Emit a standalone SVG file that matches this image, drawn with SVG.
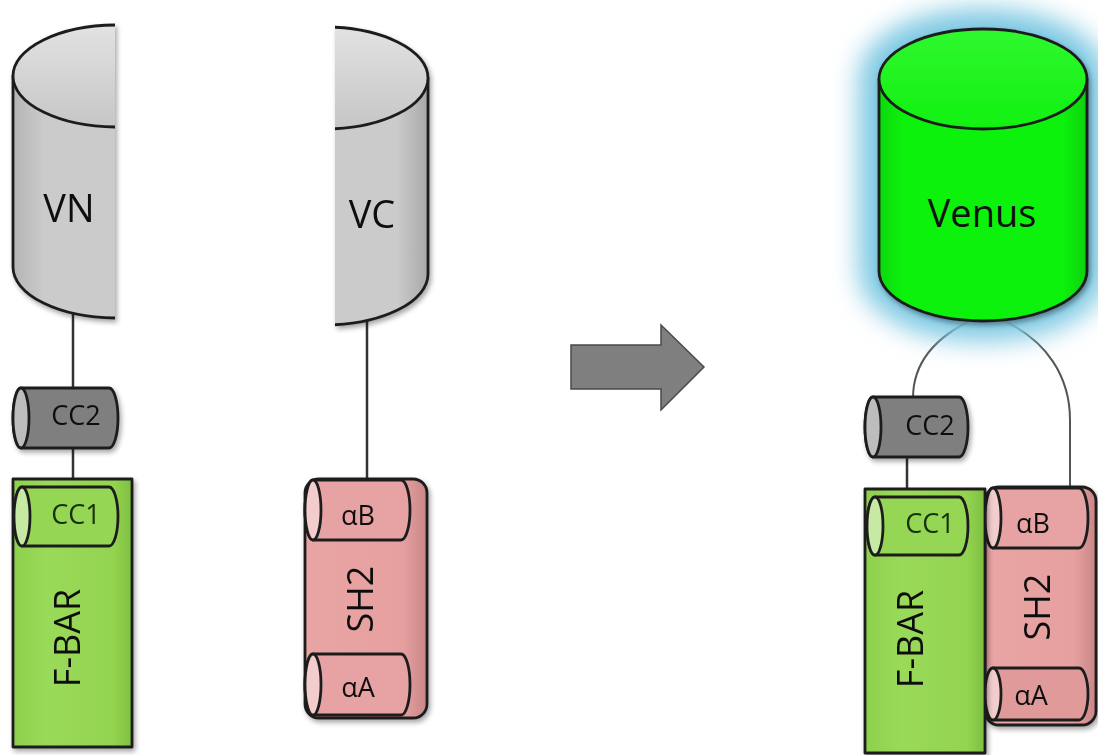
<svg xmlns="http://www.w3.org/2000/svg" width="1098" height="755" viewBox="0 0 1098 755">
  <style>
    .edge { stroke: #1f1f1f; stroke-width: 2.8; stroke-linejoin: round; }
    .wire { fill: none; stroke: #333; stroke-width: 2.5; }
    .wire2 { fill: none; stroke: #555; stroke-width: 2; }
    .lbl { font-family: "Open Sans", "Noto Sans", sans-serif; fill: #111; text-anchor: middle; }
    .big { font-size: 38px; }
    .mid { font-size: 36px; }
    .sm { font-size: 27px; }
    .dkg { fill: #17300a; }
  </style>
  <defs>
    <filter id="shadow" x="-20%" y="-20%" width="140%" height="140%">
      <feDropShadow dx="2" dy="3" stdDeviation="2.5" flood-color="#000" flood-opacity="0.35"/>
    </filter>
    <filter id="glow" x="-50%" y="-50%" width="200%" height="200%">
      <feGaussianBlur stdDeviation="13"/>
    </filter>
    <linearGradient id="grayBody" x1="0" y1="0" x2="1" y2="0">
      <stop offset="0" stop-color="#b4b4b4"/>
      <stop offset="0.15" stop-color="#cbcbcb"/>
      <stop offset="0.85" stop-color="#cbcbcb"/>
      <stop offset="1" stop-color="#a8a8a8"/>
    </linearGradient>
    <linearGradient id="grayTop" x1="0" y1="0" x2="0" y2="1">
      <stop offset="0" stop-color="#e2e2e2"/>
      <stop offset="1" stop-color="#c6c6c6"/>
    </linearGradient>
    <linearGradient id="greenBody" x1="0" y1="0" x2="1" y2="0">
      <stop offset="0" stop-color="#08d808"/>
      <stop offset="0.12" stop-color="#0cf20c"/>
      <stop offset="0.88" stop-color="#0cf20c"/>
      <stop offset="1" stop-color="#06d206"/>
    </linearGradient>
    <linearGradient id="greenTop" x1="0" y1="0" x2="0" y2="1">
      <stop offset="0" stop-color="#30f830"/>
      <stop offset="1" stop-color="#10f010"/>
    </linearGradient>
    <linearGradient id="lime" x1="0" y1="0" x2="1" y2="0">
      <stop offset="0" stop-color="#8ed04c"/>
      <stop offset="0.3" stop-color="#9ada5a"/>
      <stop offset="0.85" stop-color="#92d350"/>
      <stop offset="1" stop-color="#7fbf40"/>
    </linearGradient>
    <linearGradient id="pink" x1="0" y1="0" x2="1" y2="0">
      <stop offset="0" stop-color="#e9a4a4"/>
      <stop offset="0.8" stop-color="#e6a0a0"/>
      <stop offset="1" stop-color="#c98686"/>
    </linearGradient>
    <clipPath id="leftHalf"><rect x="0" y="0" width="115" height="340"/></clipPath>
    <clipPath id="rightHalf"><rect x="335" y="0" width="120" height="340"/></clipPath>
  </defs>

  <rect width="1098" height="755" fill="#fff"/>

  <!-- connectors -->
  <g id="connectors">
    <line class="wire" x1="73" y1="312" x2="73" y2="390"/>
    <line class="wire" x1="73" y1="447" x2="73" y2="479"/>
    <line class="wire" x1="367" y1="318" x2="367" y2="479"/>
    <path class="wire2" d="M976 318 C936 336 913 362 913 398"/>
    <line class="wire" x1="907" y1="456" x2="907" y2="489"/>
    <path class="wire2" d="M1000 319 C1048 340 1070 378 1070 420 L1070 488"/>
  </g>

  <!-- left half cylinder -->
  <g id="VN" filter="url(#shadow)">
    <g clip-path="url(#leftHalf)">
      <path class="edge" fill="url(#grayBody)" d="M13 76 L13 267 A104 51 0 0 0 221 267 L221 76 Z"/>
      <ellipse class="edge" cx="117" cy="76" rx="104" ry="51" fill="url(#grayTop)"/>
    </g>
    <text class="lbl big" x="69" y="222">VN</text>
  </g>

  <!-- right half cylinder -->
  <g id="VC" filter="url(#shadow)">
    <g clip-path="url(#rightHalf)">
      <path class="edge" fill="url(#grayBody)" d="M220 78 L220 274 A104 51 0 0 0 428 274 L428 78 Z"/>
      <ellipse class="edge" cx="324" cy="78" rx="104" ry="51" fill="url(#grayTop)"/>
    </g>
    <text class="lbl big" x="372" y="228">VC</text>
  </g>

  <!-- left: CC2 -->
  <g id="CC2-left" filter="url(#shadow)">
    <path class="edge" fill="#7f7f7f" d="M21 388 L109 388 A9 30 0 0 1 109 448 L21 448 A8 30 0 0 1 21 388 Z"/>
    <ellipse class="edge" cx="21" cy="418" rx="8" ry="30" fill="#bdbdbd"/>
    <text class="lbl sm" x="76" y="425">CC2</text>
  </g>

  <!-- left: F-BAR with CC1 -->
  <g id="FBAR-left" filter="url(#shadow)">
    <rect class="edge" x="13" y="479" width="119" height="268" fill="url(#lime)"/>
    <path class="edge" fill="#96d655" d="M22 487 L109 487 A9 29.5 0 0 1 109 546 L22 546 A8 29.5 0 0 1 22 487 Z"/>
    <ellipse class="edge" cx="22" cy="516.5" rx="8" ry="29.5" fill="#c6e9a4"/>
    <text class="lbl sm dkg" x="76" y="524">CC1</text>
    <text class="lbl mid" transform="translate(80 638) rotate(-90)">F-BAR</text>
  </g>

  <!-- left: SH2 with helices -->
  <g id="SH2-left" filter="url(#shadow)">
    <rect class="edge" x="305" y="479" width="122" height="239" rx="14" fill="url(#pink)"/>
    <path class="edge" fill="#e7a3a3" d="M313 480 L401 480 A9 30 0 0 1 401 540 L313 540 A8 30 0 0 1 313 480 Z"/>
    <ellipse class="edge" cx="313" cy="510" rx="8" ry="30" fill="#f3cdcd"/>
    <text class="lbl sm" x="358" y="525">αB</text>
    <path class="edge" fill="#e7a3a3" d="M313 654 L401 654 A9 30.5 0 0 1 401 715 L313 715 A8 30.5 0 0 1 313 654 Z"/>
    <ellipse class="edge" cx="313" cy="684.5" rx="8" ry="30.5" fill="#f3cdcd"/>
    <text class="lbl sm" x="358" y="697">αA</text>
    <text class="lbl mid" transform="translate(373 599) rotate(-90)">SH2</text>
  </g>

  <!-- transition arrow -->
  <g id="arrow">
    <path d="M571 345 L661 345 L661 325 L704 367 L661 410 L661 389 L571 389 Z" fill="#7f7f7f" stroke="#4a4a4a" stroke-width="1.5" stroke-linejoin="miter"/>
  </g>

  <!-- reconstituted Venus with its halo -->
  <g id="Venus">
    <path d="M879 79 L879 271 A104 50 0 0 0 1087 271 L1087 79 A104 50 0 0 0 879 79 Z" fill="#7cc8e2" stroke="#7cc8e2" stroke-width="40" stroke-linejoin="round" filter="url(#glow)"/>
    <g filter="url(#shadow)">
      <path class="edge" fill="url(#greenBody)" d="M879 79 L879 271 A104 50 0 0 0 1087 271 L1087 79 Z"/>
      <ellipse class="edge" cx="983" cy="79" rx="104" ry="50" fill="url(#greenTop)"/>
    </g>
    <text class="lbl big" x="982" y="227">Venus</text>
  </g>

  <!-- right: CC2 -->
  <g id="CC2-right" filter="url(#shadow)">
    <path class="edge" fill="#7f7f7f" d="M873 397 L959 397 A9 30 0 0 1 959 457 L873 457 A8 30 0 0 1 873 397 Z"/>
    <ellipse class="edge" cx="873" cy="427" rx="8" ry="30" fill="#bdbdbd"/>
    <text class="lbl sm" x="930" y="435">CC2</text>
  </g>

  <!-- right: SH2 with helices -->
  <g id="SH2-right" filter="url(#shadow)">
    <rect class="edge" x="985" y="487" width="111" height="238" rx="14" fill="url(#pink)"/>
    <path class="edge" fill="#e7a3a3" d="M993 488 L1079 488 A9 30 0 0 1 1079 548 L993 548 A8 30 0 0 1 993 488 Z"/>
    <ellipse class="edge" cx="993" cy="518" rx="8" ry="30" fill="#f3cdcd"/>
    <text class="lbl sm" x="1033" y="533">αB</text>
    <path class="edge" fill="#e09a9a" d="M993 668 L1079 668 A9 26 0 0 1 1079 720 L993 720 A8 26 0 0 1 993 668 Z"/>
    <ellipse class="edge" cx="993" cy="694" rx="8" ry="26" fill="#f3cdcd"/>
    <text class="lbl sm" x="1031" y="705">αA</text>
    <text class="lbl mid" transform="translate(1050 607) rotate(-90)">SH2</text>
  </g>

  <!-- right: F-BAR with CC1 -->
  <g id="FBAR-right" filter="url(#shadow)">
    <rect class="edge" x="865" y="489" width="120" height="264" fill="url(#lime)"/>
    <path class="edge" fill="#96d655" d="M875 497 L959 497 A9 29 0 0 1 959 555 L875 555 A8 29 0 0 1 875 497 Z"/>
    <ellipse class="edge" cx="875" cy="526" rx="8" ry="29" fill="#c6e9a4"/>
    <text class="lbl sm dkg" x="930" y="533">CC1</text>
    <text class="lbl mid" transform="translate(923 639) rotate(-90)">F-BAR</text>
  </g>
</svg>
